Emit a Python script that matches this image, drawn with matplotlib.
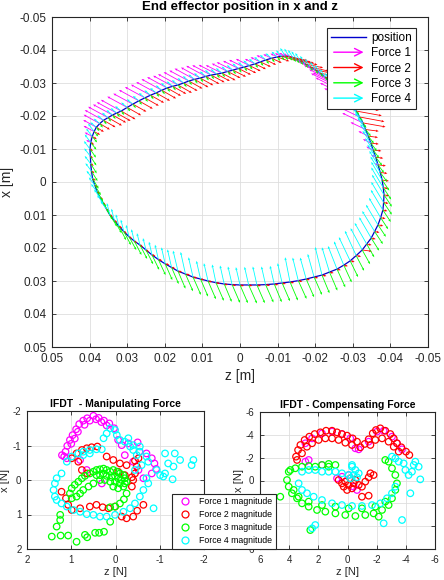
import numpy as np
import matplotlib
matplotlib.use('Agg')
import matplotlib.pyplot as plt
from matplotlib.lines import Line2D
from matplotlib.patches import FancyArrowPatch
from matplotlib.legend_handler import HandlerBase

plt.rcParams['font.family'] = ['Liberation Sans', 'DejaVu Sans']
plt.rcParams['axes.unicode_minus'] = False

# ---------------- top plot: end effector path (mm) ----------------
# top-left arc / peak-right / right side / bottom / left side
pos_z = [38.2, 37.3, 36.3, 35.1, 33.9, 32.8, 31.6, 30.0, 28.5, 26.9, 25.3, 23.8, 22.3, 20.8, 19.4, 17.9, 16.5, 15.0,
         13.6, 12.1, 10.6, 9.1, 7.7, 6.2, 4.8, 3.3, 1.9, 0.4, -1.1, -2.5, -4.0, -5.4, -6.9, -8.4, -9.9, -11.0,
         -12.0, -13.1, -14.1, -15.0, -16.0, -17.3, -18.6, -20.0, -21.3, -22.6, -23.9, -25.3, -26.6, -27.7, -28.7,
         -29.8, -30.9, -31.8, -32.7,
         -33.4, -34.1, -34.8, -35.4, -36.1, -36.7, -37.3, -37.8, -38.1, -38.3, -38.2, -38.0, -37.4, -36.7, -35.8,
         -34.9, -33.7, -32.5, -30.9, -29.3,
         -27.6, -25.8, -23.8, -21.8, -19.7, -17.6, -15.5, -13.3, -11.2, -9.1, -6.8, -4.5, -2.3, 0.0, 2.1, 4.2,
         6.4, 8.5, 10.5, 12.5, 14.5, 16.5, 18.2, 19.9, 21.7, 23.4,
         25.0, 26.6, 28.1, 29.5, 30.9, 32.2, 33.4, 34.6, 35.5, 36.4, 37.2, 38.0, 38.6, 39.2, 39.5, 39.7, 39.8,
         39.9, 39.7, 39.3, 38.8]
pos_x = [-16.6, -17.7, -18.7, -19.5, -20.3, -20.9, -21.5, -22.6, -23.6, -24.6, -25.5, -26.3, -27.0, -27.8, -28.5,
         -29.0, -29.4, -30.0, -30.6, -31.1, -31.5, -32.0, -32.4, -32.7, -33.0, -33.5, -33.9, -34.4, -34.8, -35.3,
         -35.8, -36.4, -37.0, -37.5, -37.9, -38.1,
         -38.2, -38.0, -37.6, -37.2, -36.7, -35.8, -34.9, -34.0, -33.0, -31.8, -30.6, -29.3, -27.9, -26.4, -24.9,
         -23.2, -21.5, -19.7, -17.9,
         -15.9, -13.9, -11.8, -9.7, -7.5, -5.2, -2.9, -0.6, 1.7, 3.9, 6.2, 8.5, 10.8, 13.0, 15.0, 17.0, 18.8,
         20.6, 22.3, 23.9,
         25.2, 26.4, 27.3, 28.2, 28.8, 29.4, 29.9, 30.3, 30.6, 30.9, 31.1, 31.2, 31.2, 31.2, 31.1, 30.9, 30.5,
         30.0, 29.4, 28.8, 27.9, 27.0, 25.9, 24.8, 23.5, 22.1,
         20.6, 19.1, 17.9, 16.6, 15.0, 13.4, 11.7, 10.0, 8.2, 6.4, 4.7, 3.0, 1.0, -1.0, -3.3, -5.5, -7.8,
         -10.0, -12.0, -13.8, -15.3]

# force arrows at each path point (dz, dx, mm of drawn length)
f1_dz = [3.5, 4.3, 5.0, 5.3, 5.2, 5.3, 5.4, 5.3, 5.2, 5.3, 5.3, 5.2, 5.3, 5.4, 5.3, 5.2, 5.3, 5.3, 5.2, 5.3,
         5.1, 5.2, 5.0, 4.8, 4.3, 4.2, 4.3, 4.1, 4.0, 3.6, 2.7, 2.6, 2.5, 2.2, 1.8, 1.7,
         1.6, 1.6, 1.7, 1.6, 1.8, 4.3, 4.2, 4.4, 4.3, 4.2, 4.5, 6.4, 6.5, 6.4, 6.3, 6.4, 6.2, 6.0, 5.5,
         4.0, 2.6, 2.1, 1.8, 1.2, 0.8, 0.3, 0.3, 0.3, 0.3, 0.3, 0.3, 0.3, 0.3, 0.3, 0.3, 0.3, 0.3, 0.3, 0.3,
         0.3, 0.3, 0.3, 0.3, 0.3, 0.3, 0.3, 0.3, 0.3, 0.3, 0.3, 0.3, 0.3, 0.3, 0.3, 0.3, 0.3, 0.3, 0.3, 0.3,
         0.3, 0.3, 0.3, 0.3, 0.3, 0.3,
         0.3, 0.3, 0.3, 0.3, 0.3, 0.3, 0.3, 0.3, 0.3, 0.3, 0.3, 0.3, 0.3, 0.3, 0.3, 0.3, 0.3, 0.3, 1.2, 2.0, 2.8]
f1_dx = [-2.2, -2.7, -3.1, -3.3, -3.2, -3.3, -3.4, -3.3, -3.2, -3.3, -3.3, -3.2, -3.3, -3.4, -3.3, -3.2, -3.3,
         -3.3, -3.2, -3.3, -3.2, -3.2, -3.0, -2.8, -2.4, -2.4, -2.4, -2.3, -2.2, -2.0, -1.5, -1.4, -1.4, -1.2,
         -1.0, -0.9,
         -0.9, -0.9, -1.0, -0.9, -1.0, -2.4, -2.3, -2.5, -2.4, -2.3, -2.5, -3.6, -3.7, -3.6, -3.5, -3.6, -3.4,
         -3.3, -3.0,
         -2.2, -1.5, -1.2, -1.0, -0.7, -0.5, -0.2, -0.2, -0.2, -0.2, -0.2, -0.2, -0.2, -0.2, -0.2, -0.2, -0.2,
         -0.2, -0.2, -0.2,
         -0.2, -0.2, -0.2, -0.2, -0.2, -0.2, -0.2, -0.2, -0.2, -0.2, -0.2, -0.2, -0.2, -0.2, -0.2, -0.2, -0.2,
         -0.2, -0.2, -0.2, -0.2, -0.2, -0.2, -0.2, -0.2, -0.2,
         -0.2, -0.2, -0.2, -0.2, -0.2, -0.2, -0.2, -0.2, -0.2, -0.2, -0.2, -0.2, -0.2, -0.2, -0.2, -0.2, -0.2,
         -0.2, -0.7, -1.2, -1.7]

f2_dz = [-2.0, -2.7, -3.2, -3.7, -3.6, -3.7, -3.8, -3.7, -3.6, -3.7, -3.7, -3.6, -3.7, -3.8, -3.7, -3.6,
         -3.7, -3.7, -3.6, -3.7, -3.5, -3.6, -3.6, -3.5, -3.6, -3.4, -3.5, -3.3, -3.2, -3.0, -2.9, -2.8, -2.7,
         -2.7, -3.2, -4.0,
         -4.8, -4.9, -4.8, -4.7, -4.6, -4.8, -4.9, -5.0, -4.8, -4.9, -5.2, -5.6, -6.9, -7.0, -6.9, -7.1, -6.8,
         -6.6, -6.0,
         -3.5, -2.6, -2.1, -2.2, -2.0, -2.1, -1.9, -1.8, -1.3, -1.4, -1.3, -1.2, -1.3, -1.4, -1.3, -1.2, -1.3,
         -2.6, -1.3, -1.2,
         -1.1, -1.0, -1.1, -1.2, -1.1, -1.0, -1.1, -1.1, -1.0, -1.1, -1.2, -1.1, -1.0, -1.1, -1.1, -1.0, -1.1,
         -1.1, -1.0, -1.1, -1.2, -1.1, -1.0, -1.1, -1.0, -0.9,
         -0.8, -0.8, -0.7, -0.8, -0.8, -0.9, -0.8, -0.8, -0.8, -0.7, -0.8, -0.8, -0.9, -0.8, -0.8, -0.8, -0.7,
         -0.8, -0.9, -1.2, -1.6]
f2_dx = [1.4, 1.8, 2.1, 2.4, 2.3, 2.4, 2.5, 2.4, 2.3, 2.4, 2.4, 2.3, 2.4, 2.5, 2.4, 2.3, 2.4, 2.4, 2.3, 2.4,
         2.2, 2.3, 2.2, 2.1, 2.2, 2.0, 2.0, 1.9, 1.8, 1.7, 1.6, 1.5, 1.5, 1.4, 1.3, 1.2,
         1.2, 1.2, 1.3, 1.2, 1.2, 1.2, 1.3, 1.2, 1.2, 1.3, 1.3, 1.4, 1.5, 1.6, 1.5, 1.5, 1.4, 1.4, 1.2,
         0.5, 0.4, 0.3, 0.3, 0.3, 0.3, 0.3, 0.3, 0.3, 0.3, 0.3, 0.3, 0.3, 0.3, 0.3, 0.3, 0.3, 0.4, 0.3, 0.3,
         0.3, 0.3, 0.3, 0.3, 0.3, 0.3, 0.3, 0.3, 0.3, 0.3, 0.3, 0.3, 0.3, 0.3, 0.3, 0.3, 0.3, 0.3, 0.3, 0.3,
         0.3, 0.3, 0.3, 0.3, 0.3, 0.3,
         0.6, 0.6, 0.6, 0.6, 0.6, 0.6, 0.6, 0.6, 0.6, 0.6, 0.6, 0.6, 0.6, 0.6, 0.6, 0.6, 0.6, 0.6, 0.7, 0.8, 1.0]

f3_dz = [-0.8, -0.8, -0.8, -0.8, -0.8, -0.8, -0.8, -0.8, -0.8, -0.8, -0.8, -0.8, -0.8, -0.8, -0.8, -0.8, -0.8,
         -0.8, -0.8, -0.8, -0.8, -0.8, -0.8, -0.8, -0.8, -0.8, -0.8, -0.8, -0.8, -0.8, -0.8, -0.8, -0.8, -0.8,
         -0.8, -0.8,
         -0.8, -0.8, -0.8, -0.8, -0.8, -0.8, -0.8, -0.8, -0.8, -0.8, -0.8, -0.8, -0.8, -0.8, -0.8, -0.8, -0.8,
         -0.8, -0.9,
         -1.4, -1.5, -1.6, -1.6, -1.7, -1.6, -1.8, -1.9, -2.1, -2.1, -2.2, -2.1, -2.0, -2.1, -2.2, -2.1, -2.0,
         -2.1, -2.1, -2.1,
         -2.1, -2.2, -2.1, -2.0, -2.1, -2.1, -2.2, -2.1, -2.1, -2.0, -2.1, -2.1, -2.2, -2.1, -2.1, -2.0, -2.1,
         -2.1, -2.0, -2.1, -2.0, -2.0, -1.9, -1.9, -1.9, -1.9,
         -1.9, -1.9, -1.9, -1.9, -1.9, -1.9, -1.9, -1.9, -1.6, -1.6, -1.6, -1.6, -1.6, -1.6, -1.6, -1.6, -1.6,
         -1.6, -1.5, -1.3, -1.1]
f3_dx = [1.2, 1.2, 1.2, 1.2, 1.2, 1.2, 1.2, 1.2, 1.2, 1.2, 1.2, 1.2, 1.2, 1.2, 1.2, 1.2, 1.2, 1.2, 1.2, 1.2,
         1.2, 1.2, 1.2, 1.2, 1.2, 1.2, 1.2, 1.2, 1.2, 1.2, 1.2, 1.2, 1.2, 1.2, 1.2, 1.2,
         1.2, 1.2, 1.2, 1.2, 1.2, 1.2, 1.2, 1.2, 1.2, 1.2, 1.2, 1.2, 1.2, 1.2, 1.2, 1.2, 1.2, 1.3, 1.5,
         2.0, 2.2, 2.4, 2.4, 2.5, 2.4, 2.8, 3.2, 3.6, 3.6, 3.7, 3.6, 3.5, 3.6, 3.8, 3.8, 4.0, 4.3, 4.6, 4.9,
         5.2, 5.5, 5.6, 5.5, 5.4, 5.5, 5.5, 5.6, 5.5, 5.5, 5.4, 5.5, 5.6, 5.5, 5.5, 5.4, 5.5, 5.5, 5.3, 5.4,
         5.2, 5.3, 5.0, 4.9, 4.7, 4.5,
         4.3, 4.2, 4.2, 4.0, 4.1, 4.2, 3.8, 3.5, 3.2, 3.0, 3.0, 2.9, 3.0, 3.0, 3.0, 2.9, 2.8, 2.6, 2.2, 1.8, 1.5]

f4_dz = [1.6, 1.6, 1.6, 1.6, 1.6, 1.6, 1.6, 1.6, 1.6, 1.6, 1.6, 1.6, 1.6, 1.6, 1.6, 1.6, 1.6, 1.6, 1.6, 1.6,
         1.6, 1.6, 1.6, 1.6, 1.6, 1.6, 1.6, 1.6, 1.6, 1.6, 1.6, 1.6, 1.6, 1.6, 1.5, 1.4,
         1.3, 1.3, 1.3, 1.3, 1.3, 1.3, 1.3, 1.3, 1.3, 1.3, 1.3, 1.3, 2.1, 2.1, 2.1, 2.1, 2.1, 2.1, 2.1,
         2.1, 2.1, 2.2, 2.1, 2.2, 2.3, 2.6, 2.9, 3.2, 3.2, 3.3, 3.2, 3.1, 3.2, 3.3, 3.2, 3.2, 3.1, 3.0, 3.0,
         2.6, 2.4, 2.0, 1.8, 1.7, 1.6, 1.5, 1.3, 1.2, 1.1, 1.1, 1.1, 1.1, 1.1, 1.1, 1.1, 1.0, 1.1, 1.1, 1.2,
         1.3, 1.3, 1.1, 1.0, 0.9, 0.8,
         0.8, 0.8, 0.8, 0.8, 0.8, 0.8, 0.8, 0.8, 1.6, 1.6, 1.6, 1.6, 1.6, 1.6, 1.6, 1.6, 1.6, 1.6, 1.6, 1.6, 1.6]
f4_dx = [-1.5, -1.5, -1.5, -1.5, -1.5, -1.5, -1.5, -1.5, -1.5, -1.5, -1.5, -1.5, -1.5, -1.5, -1.5, -1.5, -1.5,
         -1.5, -1.5, -1.5, -1.5, -1.5, -1.5, -1.5, -1.5, -1.5, -1.5, -1.5, -1.5, -1.5, -1.5, -1.5, -1.5, -1.5,
         -1.6, -1.8,
         -2.4, -2.4, -2.4, -2.4, -2.4, -2.4, -2.4, -2.4, -2.4, -2.4, -2.4, -2.4, -3.0, -3.0, -3.0, -3.0, -3.0,
         -3.0, -3.0,
         -3.6, -3.6, -3.7, -3.6, -3.8, -4.2, -4.8, -5.5, -6.1, -6.1, -6.2, -6.1, -6.0, -6.1, -6.2, -6.3, -6.4,
         -6.6, -7.5, -7.2,
         -7.2, -7.0, -7.5, -8.5, -7.0, -6.5, -7.0, -7.5, -6.0, -5.5, -5.5, -5.6, -5.5, -5.4, -5.5, -5.6, -5.5,
         -5.4, -5.5, -6.0, -6.7, -6.2, -5.5, -5.0, -4.5, -4.0,
         -3.6, -3.6, -3.6, -3.6, -3.6, -3.6, -3.6, -3.6, -2.4, -2.4, -2.4, -2.4, -2.4, -2.4, -2.4, -2.4, -2.4,
         -2.4, -2.4, -2.4, -2.4]

top_ticks = [0.05, 0.04, 0.03, 0.02, 0.01, 0, -0.01, -0.02, -0.03, -0.04, -0.05]

# ---------------- bottom left: manipulating force (N) ----------------
man1_z = [1.16, 1.13, 1.09, 1.03, 0.97, 0.89, 0.82, 0.73, 0.64, 0.50, 0.38, 0.26, 0.14, 0.03, -0.06, -0.14,
          -0.29, -0.50, -0.54, -0.70, -0.82, -0.88, -0.92, -0.82, -0.63, -0.52, -0.40, -0.21, 0.31, 0.65,
          0.80, 1.21, 1.10, 1.00, 0.92, 0.85, 0.70, 0.58, 0.44, 0.32, 0.20]
man1_x = [-0.68, -0.82, -0.99, -1.16, -1.30, -1.47, -1.62, -1.72, -1.79, -1.86, -1.80, -1.72, -1.64, -1.50, -1.16, -1.01,
          -1.06, -1.09, -0.82, -0.77, -0.63, -0.48, -0.32, -0.19, -0.05, -0.29, -0.53, -0.72, 0.10, -0.29,
          -0.58, -0.72, -0.63, -1.05, -1.20, -1.40, -1.60, -1.72, -1.76, -1.68, -1.58]
man2_z = [0.88, 0.76, 0.65, 0.54, 0.41, 0.99, 0.84, 0.76, 0.64, 1.22, 1.12, 1.07, 0.99, 0.80, 0.58, 0.43,
          0.29, 0.16, 0.01, -0.14, -0.25, -0.40, -0.49, -0.63, -0.37, -0.40, -0.44, -0.48, -0.44, -0.52,
          0.20, 0.05, -0.10, -0.25, -0.06, -0.21, -0.37]
man2_x = [-0.77, -0.87, -0.92, -0.95, -0.97, -0.63, -0.53, -0.29, -0.19, 0.34, 0.53, 0.72, 0.87, 0.82, 0.77, 0.72,
          0.79, 0.82, 0.77, 1.06, 1.11, 1.06, 0.89, 0.72, 0.19, 0.00, -0.19, -0.39, -0.56, -0.63,
          -0.68, -0.58, -0.48, -0.43, -0.24, -0.14, -0.08]
man3_z = [0.50, 0.43, 0.35, 0.27, 0.20, 0.12, 0.05, -0.03, -0.10, -0.18, -0.21, -0.25, 0.43, 0.35, 0.27, 0.20,
          0.09, 0.01, -0.06, -0.14, -0.21, 0.35, 0.24, 0.12, 0.01, -0.10, -0.18, 0.05, -0.06,
          0.58, 0.69, 0.76, 0.84, 0.92, 0.99, 1.03, 0.99, 0.88, 0.80, 0.73, 0.61, 0.50,
          -0.25, -0.19, -0.10, 0.01, 0.12,
          1.44, 1.24, 1.07, 1.33, 1.25, 1.25, 0.88, 0.69, 0.64, 0.46, 0.37, 0.26, 0.12]
man3_x = [-0.24, -0.29, -0.31, -0.33, -0.29, -0.24, -0.29, -0.24, -0.19, -0.14, -0.05, 0.05, -0.14, -0.14, -0.19, -0.12,
          -0.08, -0.12, -0.05, 0.00, 0.10, 0.00, 0.00, 0.05, 0.05, 0.10, 0.19, 0.19, 0.24,
          -0.19, -0.12, -0.05, 0.05, 0.14, 0.24, 0.39, 0.53, 0.48, 0.39, 0.29, 0.19, 0.10,
          0.39, 0.56, 0.68, 0.77, 0.79,
          1.64, 1.61, 1.61, 1.35, 1.16, 1.01, 1.79, 1.59, 1.66, 1.53, 1.53, 1.50, 1.21]
man4_z = [1.10, 0.99, 0.84, 0.73, 0.58, 0.43, 0.31,
          1.22, 1.33, 1.37, 1.40, 1.37, 1.33, 1.22, 1.10,
          0.95, 0.80, 0.65, 0.50, 0.35, 0.20, 0.01, -0.18, -0.33, -0.44, -0.55, -0.63, -0.74, -0.70,
          -0.10, -0.21, -0.33, -0.40, -0.55, -0.70, -0.74, -0.59, -0.44, -0.48,
          0.27, 0.20, 0.12, 0.01, -0.03, -0.29, -0.40, -0.55,
          -0.93, -1.01, -1.12, -1.19, -1.31, -1.46, -1.34, -1.12, -1.72, -1.76, -0.86, -1.29, -1.08,
          0.58, 0.73]
man4_x = [-0.53, -0.68, -0.77, -0.82, -0.87, -0.89, -0.89,
          -0.19, -0.05, 0.10, 0.29, 0.48, 0.58, 0.68, 0.77,
          0.87, 0.92, 0.99, 1.01, 1.06, 1.06, 1.01, 0.92, 0.82, 0.68, 0.48, 0.29, 0.10, -0.05,
          -1.16, -1.11, -0.97, -0.87, -0.82, -0.68, -0.53, -0.43, -0.29, -0.72,
          -1.21, -1.35, -1.50, -1.45, -1.30, -1.21, -1.01, -0.97,
          -0.29, -0.14, -0.19, -0.48, -0.39, -0.58, -0.77, -0.77, -0.43, -0.58, 0.82, -0.02, -0.10,
          -0.77, -0.72]

# ---------------- bottom right: compensating force (N) ----------------
com1_z = [2.89, 2.43, 1.75, 1.06, 0.38, -0.19, -0.54, -0.77, -1.45, -2.02, -2.48, -3.05, -3.39, -3.74,
          2.89, 2.66, 1.75, 0.72, -0.42, -0.65, 0.38, -0.08]
com1_x = [-3.26, -3.69, -4.13, -4.28, -4.07, -3.69, -2.82, -2.73, -3.40, -4.28, -4.36, -3.84, -3.26, -2.73,
          -1.65, -1.80, -1.36, -0.19, 0.54, 0.83, -0.33, -0.48]
com2_z = [3.53, 3.39, 3.23, 2.94, 2.62, 2.25, 1.86, 1.47, 1.06, 0.72, 0.38, 0.03, -0.35, -0.65, -0.88, -1.18,
          -1.45, -1.73, -1.95, -2.25, -2.59, -2.94, -3.17, -3.39, -3.69, -4.01, -4.24,
          3.12, 2.78, 2.43, 1.98, 1.52, 1.06, 0.61, 0.15, -0.31, -1.57, -1.91, -2.37, -2.82, -3.17, -3.51,
          0.61, 0.38, 0.15, -0.08, -0.42, -0.77, -0.54, -0.19, 0.26, -0.99, -1.22, -1.45, -1.57, -1.79,
          -0.99, -1.45, -0.31, 0.03, 3.46]
com2_x = [-2.09, -2.67, -3.11, -3.55, -3.84, -4.07, -4.22, -4.36, -4.36, -4.22, -4.07, -3.93, -3.69, -3.40, -2.91, -3.20,
          -3.61, -4.13, -4.42, -4.57, -4.36, -4.07, -3.69, -3.26, -2.91, -2.53, -2.23,
          -2.38, -2.96, -3.26, -3.55, -3.69, -3.69, -3.55, -3.31, -3.11, -3.11, -3.55, -3.69, -3.40, -2.96, -2.53,
          -0.04, 0.25, 0.10, 0.39, 0.25, 0.39, -0.04, -0.19, 0.54, 0.54, 0.10, -0.28, -0.63, -0.48,
          1.42, 1.33, 0.69, 0.83, -1.80]
com3_z = [4.03, 4.15, 4.03, 3.81, 3.46, 3.12, 2.66, 2.09, 1.52, 0.83, 0.15, -0.54, -1.22, -1.79, -2.37, -2.82,
          -3.05, -3.28, -3.39, -3.28, -3.05, -2.82, -2.59,
          3.92, 3.58, 3.12, 2.66, 2.21, 1.75, 1.29, 0.83, 1.29,
          3.69, 3.35, 2.66, 1.75, 0.83, -0.08, -0.99, -1.91, -2.59,
          2.55, -2.14, 4.61]
com3_x = [-0.77, -0.04, 0.54, 1.12, 1.56, 2.00, 2.29, 2.58, 2.73, 2.88, 3.02, 3.11, 3.02, 2.88, 2.58, 2.15,
          1.56, 0.83, 0.25, -0.48, -1.07, -1.65, -1.80,
          -0.92, -1.07, -1.21, -1.27, -1.21, -1.36, -1.45, -1.36, -1.21,
          0.83, 1.42, 1.85, 2.15, 2.29, 2.44, 2.44, 2.29, 1.85,
          4.34, 3.17, 1.42]
com4_z = [3.35, 3.12, 2.78, 2.32, 1.75, 1.06, 0.38, -0.31, -0.99, -1.68, -2.25, -2.71, -3.05, -3.28,
          3.12, 2.66, 2.21, 1.75, 1.29, 0.83, 0.38, -0.08, -0.31, -0.54, -0.77, -0.19, -0.42, -0.65,
          -3.05, -3.28, -3.51, -3.85, -3.97, -4.19, -4.42, -4.54, -4.65, -4.88, -4.99, -4.31, -3.74,
          -2.48, 2.21, 2.43, -0.31]
com4_x = [0.25, 0.83, 1.12, 1.42, 1.71, 2.00, 2.15, 2.23, 2.23, 2.15, 2.00, 1.56, 1.12, 0.54,
          -0.77, -0.92, -0.92, -0.77, -0.77, -0.77, -0.63, -0.48, -1.21, -0.92, -0.63, -0.19, -0.48, -0.28,
          -2.09, -1.94, -1.65, -1.50, -0.92, -0.48, -0.77, -1.36, -1.65, -1.21, -0.10, 1.12, 3.46,
          3.75, 3.90, 4.19, -1.36]

colors = ['#ff00ff', '#ff0000', '#00ff00', '#00ffff']
ink = '#262626'


class ArrowHandler(HandlerBase):
    def create_artists(self, legend, orig_handle, xdescent, ydescent, width, height, fontsize, trans):
        y = height / 2 - ydescent
        arr = FancyArrowPatch((-xdescent, y), (width - xdescent, y),
                              arrowstyle='->,head_length=0.6,head_width=0.3', mutation_scale=9,
                              color=orig_handle.get_color(), lw=1.0, transform=trans)
        return [arr]


def matlab_axes(ax, fs):
    ax.grid(True, color='#dedede', lw=0.6)
    ax.set_axisbelow(True)
    for s in ax.spines.values():
        s.set_color(ink)
        s.set_linewidth(0.8)
    ax.tick_params(direction='in', top=True, right=True, length=3, width=0.6,
                   colors=ink, labelsize=fs, pad=4)


fig = plt.figure(figsize=(4.44, 5.8), dpi=100)

# ---- top ----
ax = fig.add_axes([52 / 444, 1 - 347 / 580, 376 / 444, 330 / 580])
matlab_axes(ax, 8.5)
pz = np.array(pos_z) / 1000
px = np.array(pos_x) / 1000
ax.plot(np.append(pz, pz[0]), np.append(px, px[0]), color='#0000cc', lw=0.9, zorder=2)
forces = [(f1_dz, f1_dx), (f2_dz, f2_dx), (f3_dz, f3_dx), (f4_dz, f4_dx)]
for (dz, dx), c in zip(forces, colors):
    ax.quiver(pz, px, np.array(dz) / 1000, np.array(dx) / 1000, color=c,
              angles='xy', scale_units='xy', scale=1, width=0.0022,
              headwidth=3, headlength=3.5, headaxislength=3, minlength=0, zorder=3)
ax.set_xlim(0.05, -0.05)
ax.set_ylim(0.05, -0.05)
ax.set_xticks(top_ticks)
ax.set_xticklabels(['{:g}'.format(v) for v in top_ticks])
ax.set_yticks(top_ticks)
ax.set_yticklabels(['{:g}'.format(v) for v in top_ticks])
ax.set_xlabel('z [m]', fontsize=10, color=ink, labelpad=3)
ax.set_ylabel('x [m]', fontsize=10, color=ink, labelpad=4)
ax.set_title('End effector position in x and z', fontsize=9.5, fontweight='bold', pad=5)

h_pos = Line2D([], [], color='#0000cc', lw=1)
h_f = [Line2D([], [], color=c) for c in colors]
hmap = {h: ArrowHandler() for h in h_f}
leg = ax.legend([h_pos] + h_f, ['position', 'Force 1', 'Force 2', 'Force 3', 'Force 4'],
                loc='upper right', bbox_to_anchor=(0.968, 0.967), borderaxespad=0,
                fontsize=8.5, handlelength=3.0, handletextpad=0.4, labelspacing=0.28,
                borderpad=0.35, fancybox=False, edgecolor=ink, framealpha=1, handler_map=hmap)
leg.get_frame().set_linewidth(0.8)

# ---- bottom left ----
ax1 = fig.add_axes([27 / 444, 31 / 580, 177 / 444, 138 / 580])
matlab_axes(ax1, 7)
for zz, xx, c in zip([man1_z, man2_z, man3_z, man4_z], [man1_x, man2_x, man3_x, man4_x], colors):
    ax1.scatter(zz, xx, s=22, facecolors='none', edgecolors=c, linewidths=0.9, zorder=3)
ax1.set_xlim(2, -2)
ax1.set_ylim(2, -2)
ax1.set_xticks([2, 1, 0, -1, -2])
ax1.set_yticks([-2, -1, 0, 1, 2])
ax1.set_xlabel('z [N]', fontsize=8, color=ink, labelpad=2)
ax1.set_ylabel('x [N]', fontsize=8, color=ink, labelpad=2)
ax1.set_title('IFDT  - Manipulating Force', fontsize=7.5, fontweight='bold', pad=3)

# ---- bottom right ----
ax2 = fig.add_axes([260 / 444, 31 / 580, 175 / 444, 137 / 580])
matlab_axes(ax2, 7)
for zz, xx, c in zip([com1_z, com2_z, com3_z, com4_z], [com1_x, com2_x, com3_x, com4_x], colors):
    ax2.scatter(zz, xx, s=22, facecolors='none', edgecolors=c, linewidths=0.9, zorder=3)
ax2.set_xlim(6, -6)
ax2.set_ylim(6, -6)
ax2.set_xticks([6, 4, 2, 0, -2, -4, -6])
ax2.set_yticks([-6, -4, -2, 0, 2, 4, 6])
ax2.set_xlabel('z [N]', fontsize=8, color=ink, labelpad=2)
ax2.set_ylabel('x [N]', fontsize=8, color=ink, labelpad=1)
ax2.set_title('IFDT - Compensating Force', fontsize=7.5, fontweight='bold', pad=3)

h_m = [Line2D([], [], ls='none', marker='o', markerfacecolor='none', markeredgecolor=c,
              markersize=5, markeredgewidth=0.9) for c in colors]
leg2 = fig.legend(h_m, ['Force 1 magnitude', 'Force 2 magnitude', 'Force 3 magnitude', 'Force 4 magnitude'],
                  loc='upper left', bbox_to_anchor=(172 / 444, 1 - 494 / 580), borderaxespad=0,
                  fontsize=6.3, handlelength=2.2, handletextpad=0.5, labelspacing=0.45,
                  borderpad=0.4, fancybox=False, edgecolor=ink, framealpha=1)
leg2.get_frame().set_linewidth(0.8)
leg2.set_zorder(10)

fig.savefig('out.png', dpi=100)
